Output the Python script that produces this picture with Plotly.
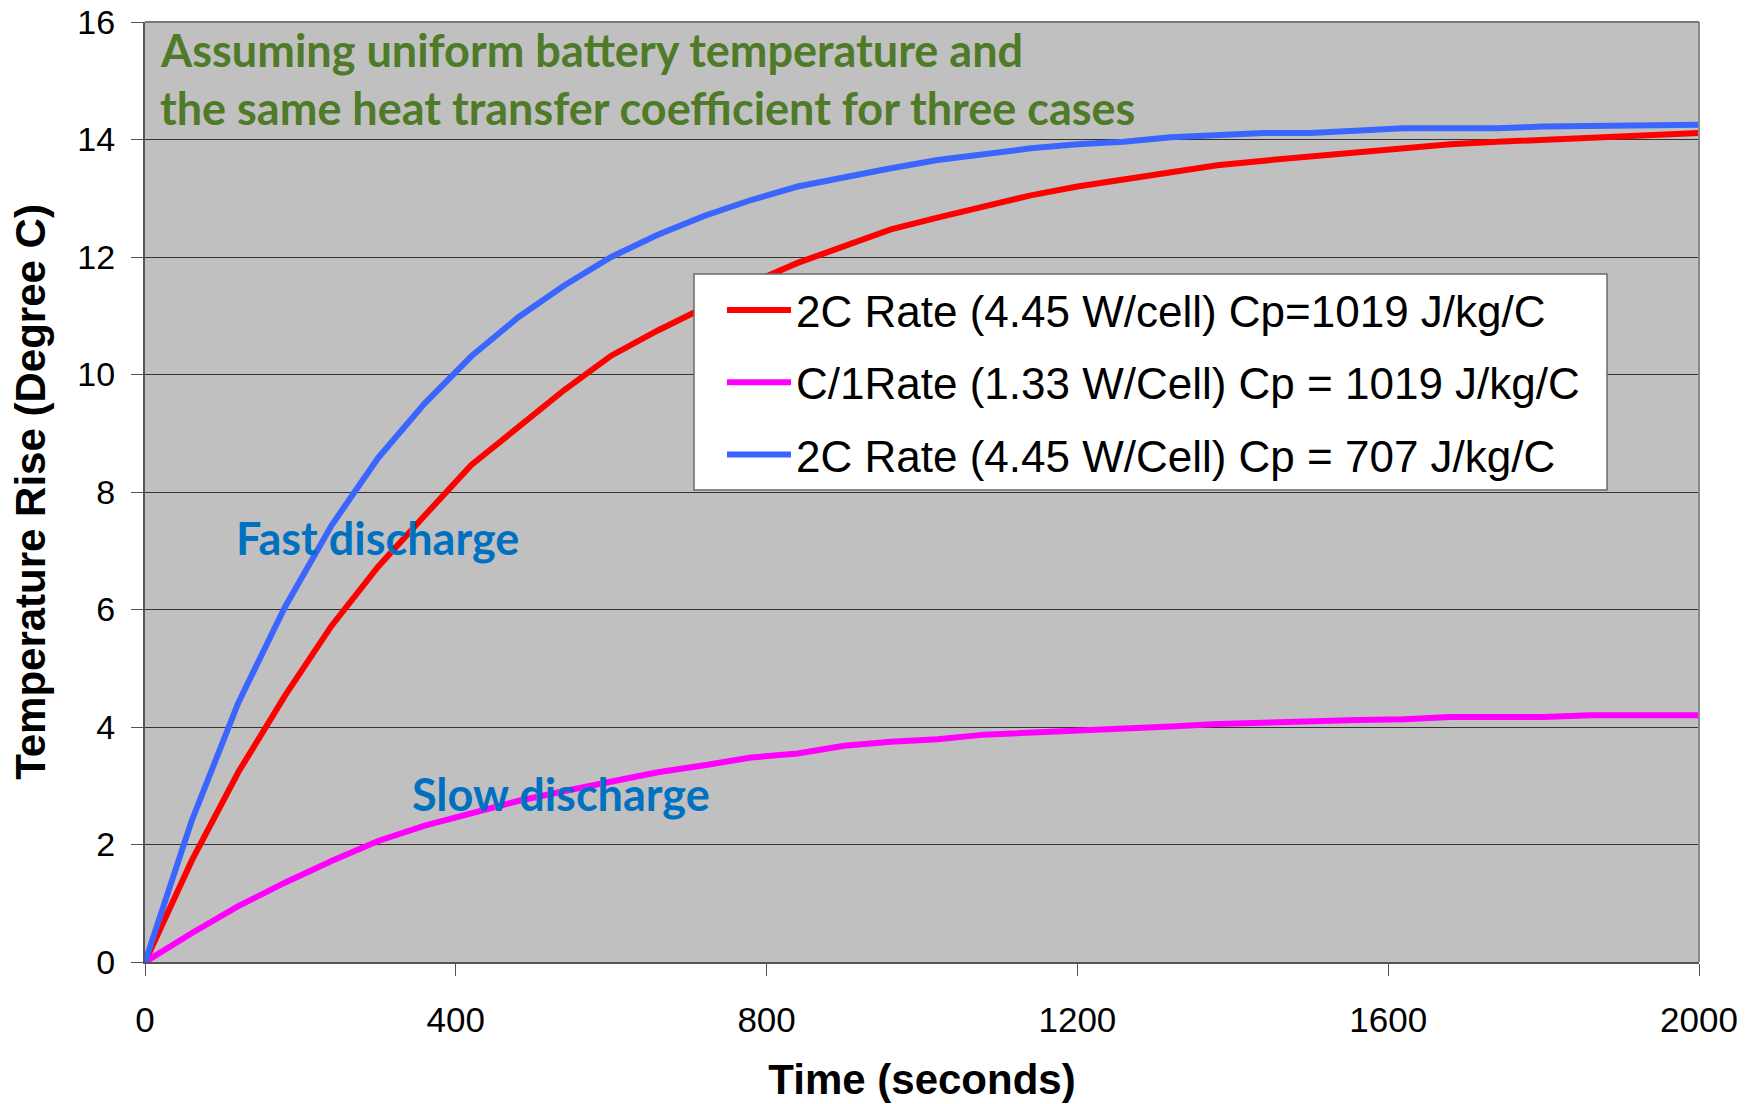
import plotly.graph_objects as go

time_s = [0, 60, 120, 180, 240, 300, 360, 420, 480, 540, 600, 660, 720, 780, 840, 900,
          960, 1020, 1080, 1140, 1200, 1260, 1320, 1380, 1440, 1500, 1560, 1620, 1680,
          1740, 1800, 1860, 1920, 1980, 2000]

red_2c_1019 = [0, 1.72, 3.23, 4.53, 5.72, 6.73, 7.60, 8.46, 9.10, 9.74, 10.32, 10.75, 11.14,
               11.56, 11.90, 12.19, 12.47, 12.67, 12.86, 13.05, 13.20, 13.32, 13.45, 13.56,
               13.64, 13.71, 13.79, 13.87, 13.92, 13.96, 14.00, 14.04, 14.08, 14.10, 14.11]

mag_c1_1019 = [0, 0.49, 0.95, 1.35, 1.72, 2.06, 2.32, 2.54, 2.74, 2.91, 3.07, 3.23, 3.35,
               3.48, 3.55, 3.68, 3.75, 3.79, 3.87, 3.90, 3.94, 3.97, 4.01, 4.05, 4.08, 4.09,
               4.12, 4.13, 4.17, 4.17, 4.17, 4.20, 4.20, 4.20, 4.20]

blue_2c_707 = [0, 2.40, 4.41, 6.04, 7.43, 8.58, 9.51, 10.31, 10.97, 11.52, 12.00, 12.38,
               12.70, 12.97, 13.20, 13.36, 13.51, 13.65, 13.75, 13.85, 13.92, 13.96, 14.04,
               14.07, 14.11, 14.11, 14.15, 14.19, 14.19, 14.19, 14.22, 14.23, 14.23, 14.24, 14.25]

series_names = ["2C Rate (4.45 W/cell) Cp=1019 J/kg/C",
                "C/1Rate (1.33 W/Cell) Cp = 1019 J/kg/C",
                "2C Rate (4.45 W/Cell) Cp = 707 J/kg/C"]
series_values = [red_2c_1019, mag_c1_1019, blue_2c_707]
series_colors = ["#FF0000", "#FF00FF", "#3A66FF"]

x_ticks = [0, 400, 800, 1200, 1600, 2000]
y_ticks = [0, 2, 4, 6, 8, 10, 12, 14, 16]

fig = go.Figure()
for i, (name, vals, col) in enumerate(zip(series_names, series_values, series_colors)):
    fig.add_trace(go.Scatter(x=time_s, y=vals, mode="lines", name=name,
                             legendgroup=f"g{i}",
                             line=dict(color=col, width=6)))

W, H = 1754, 1104
OFF = 0  # page body margin removed via post_script
# target plot box in screen pixels
SL, SR, ST, SB = 145, 1699, 22, 962
L, T = SL - OFF, ST - OFF
R = W - (SR - OFF)
B = H - (SB - OFF)
pw, ph = SR - SL, SB - ST

def px(x):
    return (x - SL) / pw

def py(y):
    return (SB - y) / ph

ann_font = "Lato, Open Sans, sans-serif"

fig.update_layout(
    width=W, height=H,
    margin=dict(l=L, r=R, t=T, b=B, autoexpand=False),
    paper_bgcolor="white",
    plot_bgcolor="#C0C0C0",
    font=dict(family="Liberation Sans, Arial, sans-serif", color="black"),
    showlegend=True,
    legend=dict(x=px(722), y=py(275), xanchor="left", yanchor="top",
                bgcolor="rgba(0,0,0,0)", borderwidth=0,
                font=dict(size=44, family="Liberation Sans, Arial, sans-serif"),
                tracegroupgap=12, itemwidth=64),
    xaxis=dict(range=[0, 2000], tickvals=x_ticks, ticktext=[str(v) for v in x_ticks],
               showgrid=False, zeroline=False,
               showline=True, linecolor="#555555", linewidth=2, mirror=False,
               ticks="outside", ticklen=12, tickcolor="#555555", tickwidth=1.2,
               tickfont=dict(size=35), ticklabelstandoff=14, ticklabeloverflow="allow",
               title=dict(text="<b>Time (seconds)</b>", font=dict(size=42), standoff=27)),
    yaxis=dict(range=[0, 16], tickvals=y_ticks, ticktext=[str(v) for v in y_ticks],
               showgrid=True, gridcolor="#333333", gridwidth=1.3, zeroline=False,
               showline=True, linecolor="#555555", linewidth=2,
               ticks="outside", ticklen=12, tickcolor="#555555", tickwidth=1.2,
               tickfont=dict(size=34), ticklabelstandoff=9, ticklabeloverflow="allow",
               title=dict(text="<b>Temperature Rise (Degree C)</b>", font=dict(size=42), standoff=19)),
    shapes=[
        dict(type="line", xref="paper", yref="paper", x0=1, x1=1, y0=0, y1=1,
             line=dict(color="#8a8a8a", width=2)),
        dict(type="line", xref="paper", yref="paper", x0=0, x1=1, y0=1, y1=1,
             line=dict(color="#7a7a7a", width=2)),
        dict(type="rect", xref="paper", yref="paper", layer="above",
             x0=px(694), x1=px(1607), y0=py(490), y1=py(274),
             fillcolor="white", line=dict(color="#6a6a6a", width=1.5)),
    ],
    annotations=[
        dict(xref="paper", yref="paper", x=px(158), y=py(50), xanchor="left", yanchor="middle",
             text="<b>Assuming uniform battery temperature and</b>", showarrow=False,
             font=dict(family=ann_font, size=45, color="#4F7A28")),
        dict(xref="paper", yref="paper", x=px(158), y=py(108), xanchor="left", yanchor="middle",
             text="<b>the same heat transfer coefficient for three cases</b>", showarrow=False,
             font=dict(family=ann_font, size=45, color="#4F7A28")),
        dict(xref="paper", yref="paper", x=px(234), y=py(538), xanchor="left", yanchor="middle",
             text="<b>Fast discharge</b>", showarrow=False,
             font=dict(family=ann_font, size=45, color="#0070C0")),
        dict(xref="paper", yref="paper", x=px(410), y=py(794), xanchor="left", yanchor="middle",
             text="<b>Slow discharge</b>", showarrow=False,
             font=dict(family=ann_font, size=45, color="#0070C0")),
    ],
)

fig.write_html("out.html",
               config={"displayModeBar": False},
               post_script="document.body.style.margin='0';document.body.style.padding='0';")
